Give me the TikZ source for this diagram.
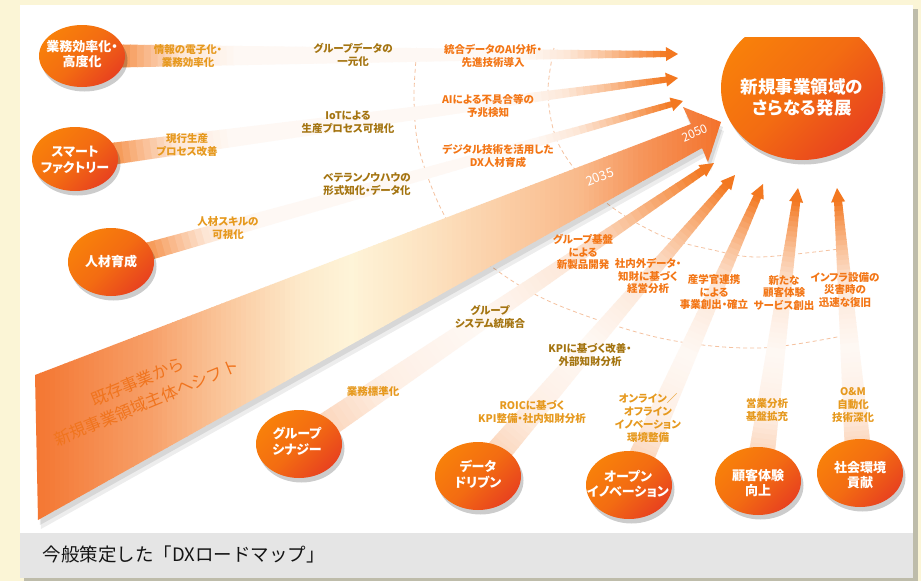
\documentclass[tikz,border=0pt]{standalone}
\usepackage{fontspec}
\setmainfont{Noto Sans CJK JP}
\newfontfamily\jpp{Noto Sans CJK JP}[RawFeature={+palt}]
\usetikzlibrary{calc,shapes.geometric,shadows}
\pgfdeclarelayer{back}\pgfdeclarelayer{arcs}\pgfdeclarelayer{wedge}\pgfdeclarelayer{bands}
\pgfsetlayers{back,arcs,wedge,bands,main}
\definecolor{bgcream}{HTML}{FBF5D6}
\definecolor{shadowc}{HTML}{BEBCAA}
\definecolor{barg}{HTML}{E5E5E5}
\definecolor{cA}{HTML}{E6991E}
\definecolor{cB}{HTML}{A47410}
\definecolor{cC}{HTML}{F37616}
\definecolor{circTop}{HTML}{F8800A}
\definecolor{circMid}{HTML}{F36C12}
\definecolor{circBot}{HTML}{E8421F}
\definecolor{arcc}{HTML}{F5C2A0}
\definecolor{headc}{HTML}{F37820}
\definecolor{wedgetxt}{HTML}{F0741E}
\definecolor{wO}{HTML}{F3722C}
\definecolor{wC}{HTML}{FEF4D8}
% piecewise-linear profiles  f/percent
\def\proftop{0/85,0.05/55,0.12/18,0.22/5,0.74/5,0.82/18,0.89/45,0.95/75,1/100}
\def\profbot{0/30,0.16/12,0.4/5,0.66/18,0.8/45,0.92/75,1/100}
\def\profwedge{0/97,0.168/65,0.284/33,0.386/8,0.459/0,0.576/14,0.794/45,0.882/72,1/100}
\newcommand\pwlin[3]{%
  \gdef\pwres{0}\gdef\pwpf{-1}\gdef\pwpp{0}%
  \foreach \stpf/\stpp in #3 {%
    \pgfmathparse{((#2)>=\pwpf && (#2)<=\stpf) ? (\pwpp+(\stpp-\pwpp)*((#2)-\pwpf)/max(\stpf-\pwpf,0.0001)) : \pwres}%
    \xdef\pwres{\pgfmathresult}%
    \xdef\pwpf{\stpf}\xdef\pwpp{\stpp}}%
  \let#1\pwres}
% band arrow: start, end(tip), start half width, end half width, profile, head length, head half width, slices
\newcommand\bandarrow[8]{%
  \path let \p1=($(#2)-(#1)$) in \pgfextra{%
    \pgfmathsetmacro\tmpang{atan2(\y1,\x1)}%
    \pgfmathsetmacro\tmplen{veclen(\x1,\y1)}%
    \xdef\bandang{\tmpang}\xdef\bandlen{\tmplen}};
  \begin{scope}[transform canvas={shift={(#1)},rotate=\bandang}]
    \pgfmathsetmacro\shaftlen{\bandlen-#6+1}%
    \foreach \i in {1,...,#8}{%
      \pgfmathsetmacro\fa{(\i-1)/#8}%
      \pgfmathsetmacro\fb{min(\i/#8+0.8/\shaftlen,1)}%
      \pgfmathsetmacro\fm{(\i-0.5)/#8}%
      \pwlin\pc{\fm}{#5}%
      \pgfmathsetmacro\xa{\fa*\shaftlen}%
      \pgfmathsetmacro\xb{\fb*\shaftlen}%
      \pgfmathsetmacro\wa{#3+(#4-#3)*\fa}%
      \pgfmathsetmacro\wb{#3+(#4-#3)*\fb}%
      \fill[headc!\pc!white] (\xa,-\wa) -- (\xb,-\wb) -- (\xb,\wb) -- (\xa,\wa) -- cycle;
    }
    \fill[headc] (\bandlen-#6,-#7) -- (\bandlen,0) -- (\bandlen-#6,#7) -- cycle;
  \end{scope}}
\tikzset{
  circ/.style={ellipse, inner sep=0pt, outer sep=0pt, minimum width=86pt, minimum height=68pt,
    top color=circTop, bottom color=circBot, middle color=circMid, shading angle=45,
    drop shadow={shadow xshift=2.5pt, shadow yshift=-4.5pt, fill=black, opacity=0.2}},
  ctext/.style={text=white, font=\jpp\bfseries\fontsize{13}{15.5}\selectfont, align=center, inner sep=0pt},
  lab/.style={font=\jpp\bfseries\fontsize{10.5}{12.8}\selectfont, align=center, inner sep=0pt},
  labA/.style={lab, text=cA},
  labB/.style={lab, text=cB},
  labC/.style={lab, text=cC},
  arcline/.style={draw=arcc, line width=0.8pt, dash pattern=on 4pt off 3pt},
}
\begin{document}
\begin{tikzpicture}[x=1pt,y=-1pt]
\useasboundingbox (0,0) rectangle (921,581);
\begin{pgfonlayer}{back}
  \fill[bgcream] (0,0) rectangle (921,581);
  \fill[shadowc] (24,9) rectangle (918,581);
  \fill[white] (20,5) rectangle (913,533);
  \fill[barg] (20,533) rectangle (913,578);
\end{pgfonlayer}
\node[anchor=west, font=\fontsize{18.5}{20}\selectfont, text=black!92] (title) at (39,554) {今般策定した「DXロードマップ」};

% dashed arcs
\begin{pgfonlayer}{arcs}
  \draw[arcline] plot[smooth, tension=0.55] coordinates {(417,48) (414,100) (420,153) (447,220) (487,263) (553,303) (660,338) (760,348) (857,333)};
  \draw[arcline] plot[smooth, tension=0.55] coordinates {(554,48) (548,95) (560,147) (603,200) (660,235) (713,250) (760,257) (847,248)};
\end{pgfonlayer}

% big shift arrow
\begin{pgfonlayer}{wedge}
  \fill[black, opacity=0.07] [shift={(3,9)}] (35,375) -- (691,124) -- (683,107) -- (721,122) -- (708,162) -- (702,148) -- (38,520) -- cycle;
  \fill[black, opacity=0.09] [shift={(2,5)}] (35,375) -- (691,124) -- (683,107) -- (721,122) -- (708,162) -- (702,148) -- (38,520) -- cycle;
  \begin{scope}
    \clip (35,375) -- (691,124) -- (683,107) -- (721,122) -- (708,162) -- (702,148) -- (38,520) -- cycle;
    \foreach \i in {1,...,140}{%
      \pgfmathsetmacro\fm{(\i-0.5)/140}%
      \pwlin\pc{\fm}{\profwedge}%
      \pgfmathsetmacro\xa{35+(\i-1)*4.9}%
      \pgfmathsetmacro\xb{35+\i*4.9+0.7}%
      \fill[wO!\pc!wC] (\xa,100) rectangle (\xb,530);
    }
  \end{scope}
\end{pgfonlayer}
\node[rotate=22.5, text=wedgetxt, font=\fontsize{16.5}{23}\selectfont, align=center] (wt) at (142,392) {既存事業から\\新規事業領域主体へシフト};
\node[rotate=21, text=white, font=\fontsize{13}{14}\selectfont] (y35) at (600,177) {2035};
\node[rotate=23, text=white, font=\fontsize{12}{13}\selectfont] (y50) at (695,133) {2050};

% circles
\node[circ, minimum height=62pt] (c1) at (82,56) {};
\node[circ, minimum height=64pt] (c2) at (75,159) {};
\node[circ] (c3) at (111,262) {};
\node[circ] (g1) at (299,444) {};
\node[circ] (g2) at (478,476) {};
\node[circ] (g3) at (629,485) {};
\node[circ] (g4) at (758,481) {};
\node[circ] (g5) at (860,473) {};
\begin{scope}
  \clip (700,37) rectangle (900,200);
  \node[circ, minimum width=162pt, minimum height=144pt] (goal) at (802,88) {};
\end{scope}
\node[ctext] (c1t) at (82,54) {業務効率化・\\高度化};
\node[ctext] (c2t) at (75,160) {スマート\\ファクトリー};
\node[ctext] (c3t) at (111,262) {人材育成};
\node[ctext] (g1t) at (297,441) {グループ\\シナジー};
\node[ctext] (g2t) at (478,474) {データ\\ドリブン};
\node[ctext] (g3t) at (628,484) {オープン\\イノベーション};
\node[ctext] (g4t) at (758,483) {顧客体験\\向上};
\node[ctext] (g5t) at (860,475) {社会環境\\貢献};
\node[text=white, font=\jpp\bfseries\fontsize{17.5}{21}\selectfont, align=center] (goalt) at (802,97) {新規事業領域の\\さらなる発展};

% arrow end points
\coordinate (t1) at (678,54);
\coordinate (t2) at (678,78);
\coordinate (t3) at (683,101);
\coordinate (tA) at (714,163);
\coordinate (tB) at (735,175);
\coordinate (tC) at (763,184);
\coordinate (tD) at (798,188);
\coordinate (tE) at (837,188);
\coordinate (s1) at ($(c1.center)!0.8!(c1.east)$);
\coordinate (s2) at ($(c2.center)!0.8!(c2.8)$);
\coordinate (s3) at ($(c3.center)!0.8!(c3.16)$);
\coordinate (sA) at ($(g1.center)!0.8!(g1.34)$);
\coordinate (sB) at ($(g2.center)!0.8!(g2.50)$);
\coordinate (sC) at ($(g3.center)!0.8!(g3.66)$);
\coordinate (sD) at ($(g4.center)!0.8!(g4.82)$);
\coordinate (sE) at ($(g5.center)!0.8!(g5.95)$);
\begin{pgfonlayer}{bands}
  \bandarrow{s1}{t1}{11.5}{3}{\proftop}{12}{7}{80}
  \bandarrow{s2}{t2}{11}{3}{\proftop}{12}{7}{80}
  \bandarrow{s3}{t3}{9}{3}{\proftop}{12}{7}{80}
  \bandarrow{sA}{tA}{13}{4}{\profbot}{14}{7}{60}
  \bandarrow{sB}{tB}{13}{4}{\profbot}{14}{7}{60}
  \bandarrow{sC}{tC}{13}{4}{\profbot}{14}{7}{50}
  \bandarrow{sD}{tD}{13}{4}{\profbot}{14}{7}{50}
  \bandarrow{sE}{tE}{13}{4}{\profbot}{14}{7}{50}
\end{pgfonlayer}

% labels
\node[labA] (l1a) at (188,56) {情報の電子化・\\業務効率化};
\node[labB] (l1b) at (353,55) {グループデータの\\一元化};
\node[labC] (l1c) at (493,56) {統合データのAI分析・\\先進技術導入};
\node[labA] (l2a) at (187,145) {現行生産\\プロセス改善};
\node[labB] (l2b) at (348,122) {IoTによる\\生産プロセス可視化};
\node[labC] (l2c) at (488,106) {AIによる不具合等の\\予兆検知};
\node[labA] (l3a) at (228,228) {人材スキルの\\可視化};
\node[labB] (l3b) at (367,184) {ベテランノウハウの\\形式知化・データ化};
\node[labC] (l3c) at (498,156) {デジタル技術を活用した\\DX人材育成};
\node[labA] (lAa) at (373,391) {業務標準化};
\node[labB] (lAb) at (490,317) {グループ\\システム統廃合};
\node[labC] (lAc) at (583,252) {グループ基盤\\による\\新製品開発};
\node[labA] (lBa) at (532,412) {ROICに基づく\\KPI整備・社内知財分析};
\node[labB] (lBb) at (590,355) {KPIに基づく改善・\\外部知財分析};
\node[labC] (lBc) at (648,276) {社内外データ・\\知財に基づく\\経営分析};
\node[labA] (lCa) at (648,418) {オンライン／\\オフライン\\イノベーション\\環境整備};
\node[labC] (lCc) at (714,292) {産学官連携\\による\\事業創出・確立};
\node[labA] (lDa) at (767,410) {営業分析\\基盤拡充};
\node[labC] (lDc) at (784,293) {新たな\\顧客体験\\サービス創出};
\node[labA] (lEa) at (853,405) {O\&M\\自動化\\技術深化};
\node[labC] (lEc) at (845,290) {インフラ設備の\\災害時の\\迅速な復旧};
\end{tikzpicture}
\end{document}
